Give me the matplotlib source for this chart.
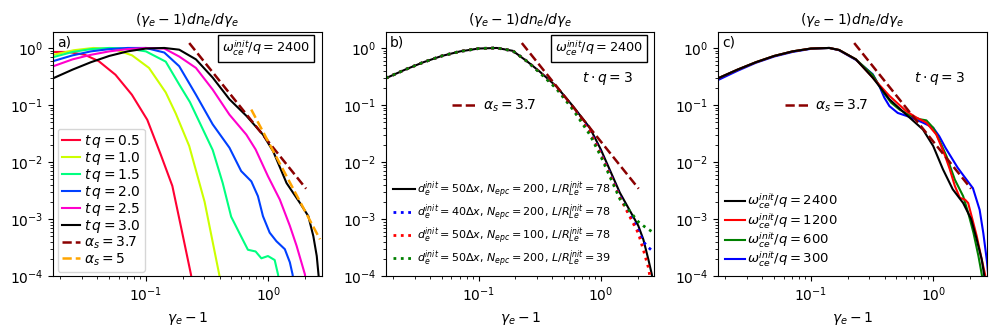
import numpy as np
import matplotlib
matplotlib.use("Agg")
import matplotlib.pyplot as plt
from matplotlib.lines import Line2D

plt.rcParams['font.size'] = 10
plt.rcParams['mathtext.fontset'] = 'dejavusans'

# ---------------- DATA (log10 values) ----------------
# panel a : spectra at different times, omega_ce/q = 2400
times = ["0.5", "1.0", "1.5", "2.0", "2.5", "3.0"]
time_colors = ["#ff0033", "#ccff00", "#00ff80", "#0040ff", "#ff00cc", "black"]

lx_a_05 = [-1.757, -1.634, -1.5, -1.387, -1.249, -1.115, -0.989, -0.879, -0.784, -0.712, -0.632, -0.6]
ly_a_05 = [-0.07, -0.07, -0.12, -0.23, -0.47, -0.82, -1.26, -1.87, -2.42, -3.15, -3.97, -4.4]

lx_a_10 = [-1.757, -1.59, -1.43, -1.26, -1.113, -0.975, -0.838, -0.756, -0.646, -0.52, -0.40, -0.37]
ly_a_10 = [-0.12, -0.04, 0.0, -0.02, -0.13, -0.35, -0.78, -1.15, -1.72, -2.7, -3.98, -4.3]

lx_a_15 = [-1.757, -1.6, -1.45, -1.3, -1.15, -1.0, -0.838, -0.728, -0.64, -0.454, -0.372,
           -0.303, -0.235, -0.166, -0.103, -0.056, -0.002, 0.053, 0.081, 0.1]
ly_a_15 = [-0.16, -0.07, -0.02, 0.0, -0.01, -0.06, -0.24, -0.64, -0.95, -1.79, -2.37,
           -2.96, -3.25, -3.54, -3.57, -3.69, -3.65, -3.72, -3.98, -4.3]

lx_a_20 = [-1.757, -1.6, -1.45, -1.3, -1.15, -1.0, -0.85, -0.728, -0.591, -0.454, -0.317,
           -0.221, -0.138, -0.084, -0.043, 0.012, 0.067, 0.136, 0.177, 0.199, 0.22]
ly_a_20 = [-0.23, -0.13, -0.06, -0.02, 0.0, 0.0, -0.08, -0.32, -0.82, -1.34, -1.75,
           -2.16, -2.34, -2.60, -2.95, -3.24, -3.39, -3.53, -3.76, -3.97, -4.3]

lx_a_25 = [-1.757, -1.6, -1.45, -1.3, -1.15, -1.0, -0.85, -0.728, -0.591, -0.454, -0.317,
           -0.179, -0.103, -0.002, 0.095, 0.177, 0.232, 0.30, 0.32]
ly_a_25 = [-0.32, -0.2, -0.12, -0.06, -0.02, 0.0, -0.01, -0.15, -0.35, -0.73, -1.17,
           -1.52, -1.78, -2.25, -2.66, -3.12, -3.47, -3.97, -4.3]

lx_a_30 = [-1.757, -1.6, -1.45, -1.3, -1.15, -1.0, -0.85, -0.728, -0.591, -0.454, -0.317,
           -0.179, -0.043, 0.04, 0.15, 0.26, 0.328, 0.369, 0.397, 0.412, 0.43]
ly_a_30 = [-0.53, -0.38, -0.25, -0.14, -0.06, -0.01, 0.0, -0.03, -0.2, -0.52, -0.90,
           -1.19, -1.52, -1.81, -2.37, -2.72, -2.95, -3.30, -3.65, -3.99, -4.4]

# panel b : numerical convergence at t q = 3
lx_b = [-1.757, -1.6, -1.45, -1.3, -1.15, -1.0, -0.85, -0.72, -0.6, -0.502, -0.365,
        -0.228, -0.09, 0.0, 0.156, 0.307, 0.348, 0.389, 0.417, 0.44]
ly_b_ref = [-0.53, -0.38, -0.25, -0.14, -0.06, -0.01, 0.0, -0.05, -0.24, -0.41, -0.67,
            -1.02, -1.40, -1.78, -2.54, -3.12, -3.36, -3.71, -3.97, -4.4]
ly_b_dx40 = [-0.53, -0.38, -0.25, -0.14, -0.06, -0.01, 0.0, -0.05, -0.24, -0.42, -0.69,
             -1.05, -1.45, -1.84, -2.6, -3.2, -3.4, -3.5, -3.55, -3.57]
ly_b_npc100 = [-0.53, -0.38, -0.25, -0.14, -0.06, -0.01, 0.0, -0.05, -0.24, -0.42, -0.69,
               -1.06, -1.47, -1.86, -2.62, -3.25, -3.54, -3.85, -4.2, -4.6]
ly_b_L39 = [-0.53, -0.38, -0.25, -0.14, -0.06, -0.01, 0.0, -0.05, -0.24, -0.43, -0.71,
            -1.08, -1.52, -1.9, -2.65, -3.05, -3.12, -3.18, -3.22, -3.25]
labels_b = [r"$d_e^{init}=50\Delta x$, $N_{epc}=200$, $L/R_{Le}^{init}=78$",
            r"$d_e^{init}=40\Delta x$, $N_{epc}=200$, $L/R_{Le}^{init}=78$",
            r"$d_e^{init}=50\Delta x$, $N_{epc}=100$, $L/R_{Le}^{init}=78$",
            r"$d_e^{init}=50\Delta x$, $N_{epc}=200$, $L/R_{Le}^{init}=39$"]

# panel c : different magnetisations at t q = 3
omegas = ["2400", "1200", "600", "300"]
lx_c_2400 = [-1.757, -1.6, -1.45, -1.3, -1.15, -1.0, -0.85, -0.77, -0.632, -0.495, -0.358,
             -0.22, -0.084, 0.0, 0.08, 0.16, 0.245, 0.31, 0.356, 0.397, 0.416, 0.44]
ly_c_2400 = [-0.53, -0.38, -0.25, -0.14, -0.06, -0.01, 0.0, -0.035, -0.20, -0.52, -0.90,
             -1.17, -1.43, -1.72, -2.13, -2.48, -2.72, -3.0, -3.36, -3.71, -3.97, -4.4]
lx_c_1200 = [-1.757, -1.6, -1.45, -1.3, -1.15, -1.0, -0.85, -0.77, -0.632, -0.495, -0.358,
             -0.22, -0.138, -0.056, 0.026, 0.095, 0.136, 0.177, 0.218, 0.26, 0.286, 0.314,
             0.356, 0.397, 0.424, 0.45]
ly_c_1200 = [-0.53, -0.38, -0.25, -0.14, -0.06, -0.01, 0.0, -0.035, -0.20, -0.52, -0.84,
             -1.11, -1.22, -1.31, -1.52, -1.88, -2.13, -2.42, -2.63, -2.66, -2.72, -2.95,
             -3.30, -3.71, -3.97, -4.4]
lx_c_600 = [-1.757, -1.6, -1.45, -1.3, -1.15, -1.0, -0.85, -0.77, -0.632, -0.495, -0.413,
            -0.344, -0.276, -0.193, -0.111, -0.056, 0.0, 0.053, 0.109, 0.177, 0.245, 0.286,
            0.329, 0.37, 0.397, 0.42]
ly_c_600 = [-0.53, -0.38, -0.25, -0.14, -0.06, -0.01, 0.0, -0.035, -0.20, -0.47, -0.76,
            -0.96, -1.08, -1.18, -1.25, -1.27, -1.40, -1.63, -1.90, -2.31, -2.60, -2.89,
            -3.24, -3.65, -3.97, -4.3]
lx_c_300 = [-1.757, -1.6, -1.45, -1.3, -1.15, -1.0, -0.85, -0.77, -0.632, -0.495, -0.44,
            -0.40, -0.358, -0.29, -0.193, -0.084, 0.0, 0.05, 0.10, 0.16, 0.20, 0.255, 0.325,
            0.38, 0.41, 0.44, 0.46]
ly_c_300 = [-0.56, -0.40, -0.26, -0.15, -0.07, -0.015, 0.0, -0.04, -0.21, -0.46, -0.67,
            -0.87, -1.02, -1.14, -1.21, -1.31, -1.40, -1.55, -1.75, -1.96, -2.10, -2.26,
            -2.46, -2.84, -3.25, -3.75, -4.2]
omega_colors = ["black", "red", "green", "blue"]

# power-law guide lines (end points)
pl37_x = [0.226, 2.04]
pl37_y = [1.22, 0.0034]
pl5_x = [0.727, 2.65]
pl5_y = [0.083, 0.00044]

xlim = (10**-1.757, 10**0.438)
ylim = (1e-4, 10**0.28)

# ---------------- FIGURE ----------------
fig = plt.figure(figsize=(10.03, 3.34), dpi=100)
w, h = 0.2676, 0.7305
ax_a = fig.add_axes([0.0532, 0.1737, w, h])
ax_b = fig.add_axes([0.3848, 0.1737, w, h])
ax_c = fig.add_axes([0.7162, 0.1737, w, h])

def p(v):
    return 10**np.array(v)

leg_kw = dict(handlelength=1.3, handletextpad=0.3, labelspacing=0.0, borderpad=0.3)

# ---------------- PANEL A ----------------
a_series = [(lx_a_05, ly_a_05), (lx_a_10, ly_a_10), (lx_a_15, ly_a_15),
            (lx_a_20, ly_a_20), (lx_a_25, ly_a_25), (lx_a_30, ly_a_30)]
for (lx, ly), t, c in zip(a_series, times, time_colors):
    ax_a.plot(p(lx), p(ly), color=c, lw=1.5, label=r"$t\,q=%s$" % t)
ax_a.plot(pl37_x, pl37_y, '--', color='darkred', lw=1.8, label=r"$\alpha_s=3.7$")
ax_a.plot(pl5_x, pl5_y, '--', color='orange', lw=1.8, label=r"$\alpha_s=5$")
ax_a.legend(loc='lower left', borderaxespad=0.3, **leg_kw)
ax_a.text(0.015, 0.985, "a)", transform=ax_a.transAxes, ha='left', va='top')

# ---------------- PANEL B ----------------
ax_b.plot(p(lx_b), p(ly_b_ref), color='black', lw=1.5, label=labels_b[0])
ax_b.plot(p(lx_b), p(ly_b_dx40), ':', color='blue', lw=2, label=labels_b[1])
ax_b.plot(p(lx_b), p(ly_b_npc100), ':', color='red', lw=2, label=labels_b[2])
ax_b.plot(p(lx_b), p(ly_b_L39), ':', color='green', lw=2, label=labels_b[3])
ax_b.plot(pl37_x, pl37_y, '--', color='darkred', lw=1.8)
ax_b.legend(loc='lower left', frameon=False, borderaxespad=0.2, fontsize=8.0,
            handlelength=2.0, handletextpad=0.2, labelspacing=0.2, borderpad=0.4)
ax_b.text(0.015, 0.985, "b)", transform=ax_b.transAxes, ha='left', va='top')

# ---------------- PANEL C ----------------
c_series = [(lx_c_2400, ly_c_2400), (lx_c_1200, ly_c_1200),
            (lx_c_600, ly_c_600), (lx_c_300, ly_c_300)]
for (lx, ly), om, c in zip(c_series[::-1], omegas[::-1], omega_colors[::-1]):
    ax_c.plot(p(lx), p(ly), color=c, lw=1.5, label=r"$\omega_{ce}^{init}/q=%s$" % om)
ax_c.plot(pl37_x, pl37_y, '--', color='darkred', lw=1.8)
hh, ll = ax_c.get_legend_handles_labels()
ax_c.legend(hh[::-1], ll[::-1], loc='lower left', frameon=False, borderaxespad=0.2,
            fontsize=9.5, handlelength=1.5, handletextpad=0.2, labelspacing=0.0, borderpad=0.3)
ax_c.text(0.015, 0.985, "c)", transform=ax_c.transAxes, ha='left', va='top')

# ---------------- COMMON ----------------
alpha_handle = [Line2D([], [], ls='--', color='darkred', lw=1.8)]
for ax in (ax_b, ax_c):
    ax.add_artist(ax.get_legend())
    ax.legend(alpha_handle, [r"$\alpha_s=3.7$"], loc='center left', frameon=False,
              bbox_to_anchor=(0.2, 0.697), handlelength=1.8, handletextpad=0.4)
    ax.text(0.825, 0.81, r"$t \cdot q=3$", transform=ax.transAxes, ha='center', va='center')

for ax in (ax_a, ax_b):
    ax.text(0.958, 0.972, r"$\omega_{ce}^{init}/q=2400$", transform=ax.transAxes,
            ha='right', va='top', fontsize=9.3,
            bbox=dict(boxstyle='square,pad=0.3', fc='white', ec='black', lw=1))

for ax in (ax_a, ax_b, ax_c):
    ax.set_xscale('log')
    ax.set_yscale('log')
    ax.set_xlim(*xlim)
    ax.set_ylim(*ylim)
    ax.set_title(r"$(\gamma_e-1)dn_e/d\gamma_e$", fontsize=10)
    ax.set_xlabel(r"$\gamma_e-1$")

fig.savefig("out.png", dpi=100)
